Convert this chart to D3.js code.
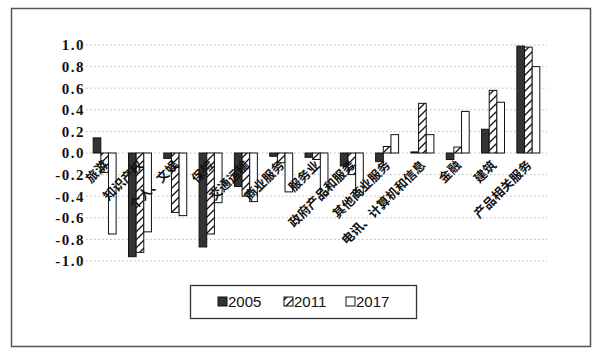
<!DOCTYPE html>
<html><head><meta charset="utf-8">
<script src="https://cdn.jsdelivr.net/npm/d3@7/dist/d3.min.js"></script>
<style>body{margin:0;background:#fff}svg{display:block}</style>
</head><body>
<svg id="c" width="601" height="356"></svg>
<script>
const categories = ["旅游","知识产权","个人、文娱","保险","交通运输","商业服务","服务业","政府产品和服务","其他商业服务","电讯、计算机和信息","金融","建筑","产品相关服务"];
const seriesNames = ["2005","2011","2017"];
const v2005 = [0.14,-0.96,-0.05,-0.87,-0.31,-0.03,-0.04,-0.12,-0.08,0.01,-0.06,0.22,0.99];
const v2011 = [-0.18,-0.92,-0.55,-0.75,-0.40,-0.09,-0.06,-0.20,0.06,0.46,0.055,0.58,0.98];
const v2017 = [-0.75,-0.73,-0.58,-0.46,-0.45,-0.36,-0.39,-0.39,0.17,0.17,0.385,0.47,0.80];
const yTicks = [1.0,0.8,0.6,0.4,0.2,0.0,-0.2,-0.4,-0.6,-0.8,-1.0];
const yTickLabels = ["1.0","0.8","0.6","0.4","0.2","0.0","-0.2","-0.4","-0.6","-0.8","-1.0"];

const series = [v2005, v2011, v2017];
const svg = d3.select("#c");
const defs = svg.append("defs");
const hp = defs.append("pattern").attr("id","hatch").attr("patternUnits","userSpaceOnUse")
  .attr("width",8).attr("height",8);
hp.append("rect").attr("width",8).attr("height",8).attr("fill","#fff");
hp.append("path").attr("d","M-2,2 L2,-2 M0,8 L8,0 M6,10 L10,6").attr("stroke","#111").attr("stroke-width",1.3);

const fills = ["#333","url(#hatch)","#fff"];

// frame
svg.append("rect").attr("x",11.5).attr("y",8.5).attr("width",579).attr("height",338)
  .attr("fill","none").attr("stroke","#555").attr("stroke-width",1.5);

const x = d3.scaleBand().domain(categories).range([87,546]).paddingInner(0.35).paddingOuter(0.175);
const xs = d3.scaleBand().domain(seriesNames).range([0,x.bandwidth()]);
const y = d3.scaleLinear().domain([-1,1]).range([261,45]);

// gridlines
svg.append("g").selectAll("line").data(yTicks).join("line")
  .attr("x1",86).attr("x2",547).attr("y1",d=>y(d)).attr("y2",d=>y(d))
  .attr("stroke","#aaa").attr("stroke-width",0.8).attr("stroke-dasharray","1.5,2.5");

// y axis labels
const yAxis = d3.axisLeft(y).tickValues(yTicks).tickFormat((d,i)=>yTickLabels[i]).tickSize(0).tickPadding(0);
const ga = svg.append("g").attr("transform","translate(85,0)").call(yAxis);
ga.attr("font-family",null).attr("font-size",null);
ga.select(".domain").remove();
ga.selectAll("text")
  .style("font-family","'Liberation Serif','DejaVu Serif','Times New Roman',serif").style("font-weight","bold")
  .style("font-size","15px").attr("fill","#111").style("letter-spacing","1.5px");

// bars
const gBars = svg.append("g");
categories.forEach((c,i)=>{
  series.forEach((s,j)=>{
    const v = s[i];
    gBars.append("rect")
      .attr("x", x(c)+xs(seriesNames[j]))
      .attr("y", y(Math.max(0,v)))
      .attr("width", xs.bandwidth())
      .attr("height", Math.abs(y(v)-y(0)))
      .attr("fill", fills[j]).attr("stroke","#111").attr("stroke-width",1);
  });
});

// category labels
svg.append("g").selectAll("text").data(categories).join("text")
  .attr("transform",d=>`translate(${x(d)+x.bandwidth()/2+4},${166}) rotate(-45)`)
  .attr("text-anchor","end")
  .attr("font-family","'Noto Sans CJK SC', sans-serif").attr("font-weight","bold")
  .attr("font-size",12.5).attr("fill","#111").text(d=>d);

// legend
const lg = svg.append("g");
lg.append("rect").attr("x",190.5).attr("y",285.5).attr("width",226).attr("height",33)
  .attr("fill","#fff").attr("stroke","#333").attr("stroke-width",1.3);
const lx = [218,284,346];
seriesNames.forEach((n,j)=>{
  lg.append("rect").attr("x",lx[j]).attr("y",297).attr("width",9).attr("height",9)
    .attr("fill",fills[j]).attr("stroke","#111").attr("stroke-width",1);
  lg.append("text").attr("x",lx[j]+10).attr("y",307)
    .attr("font-family","'Liberation Sans', Arial, sans-serif").attr("font-size",15)
    .attr("fill","#111").text(n);
});
</script>
</body></html>
